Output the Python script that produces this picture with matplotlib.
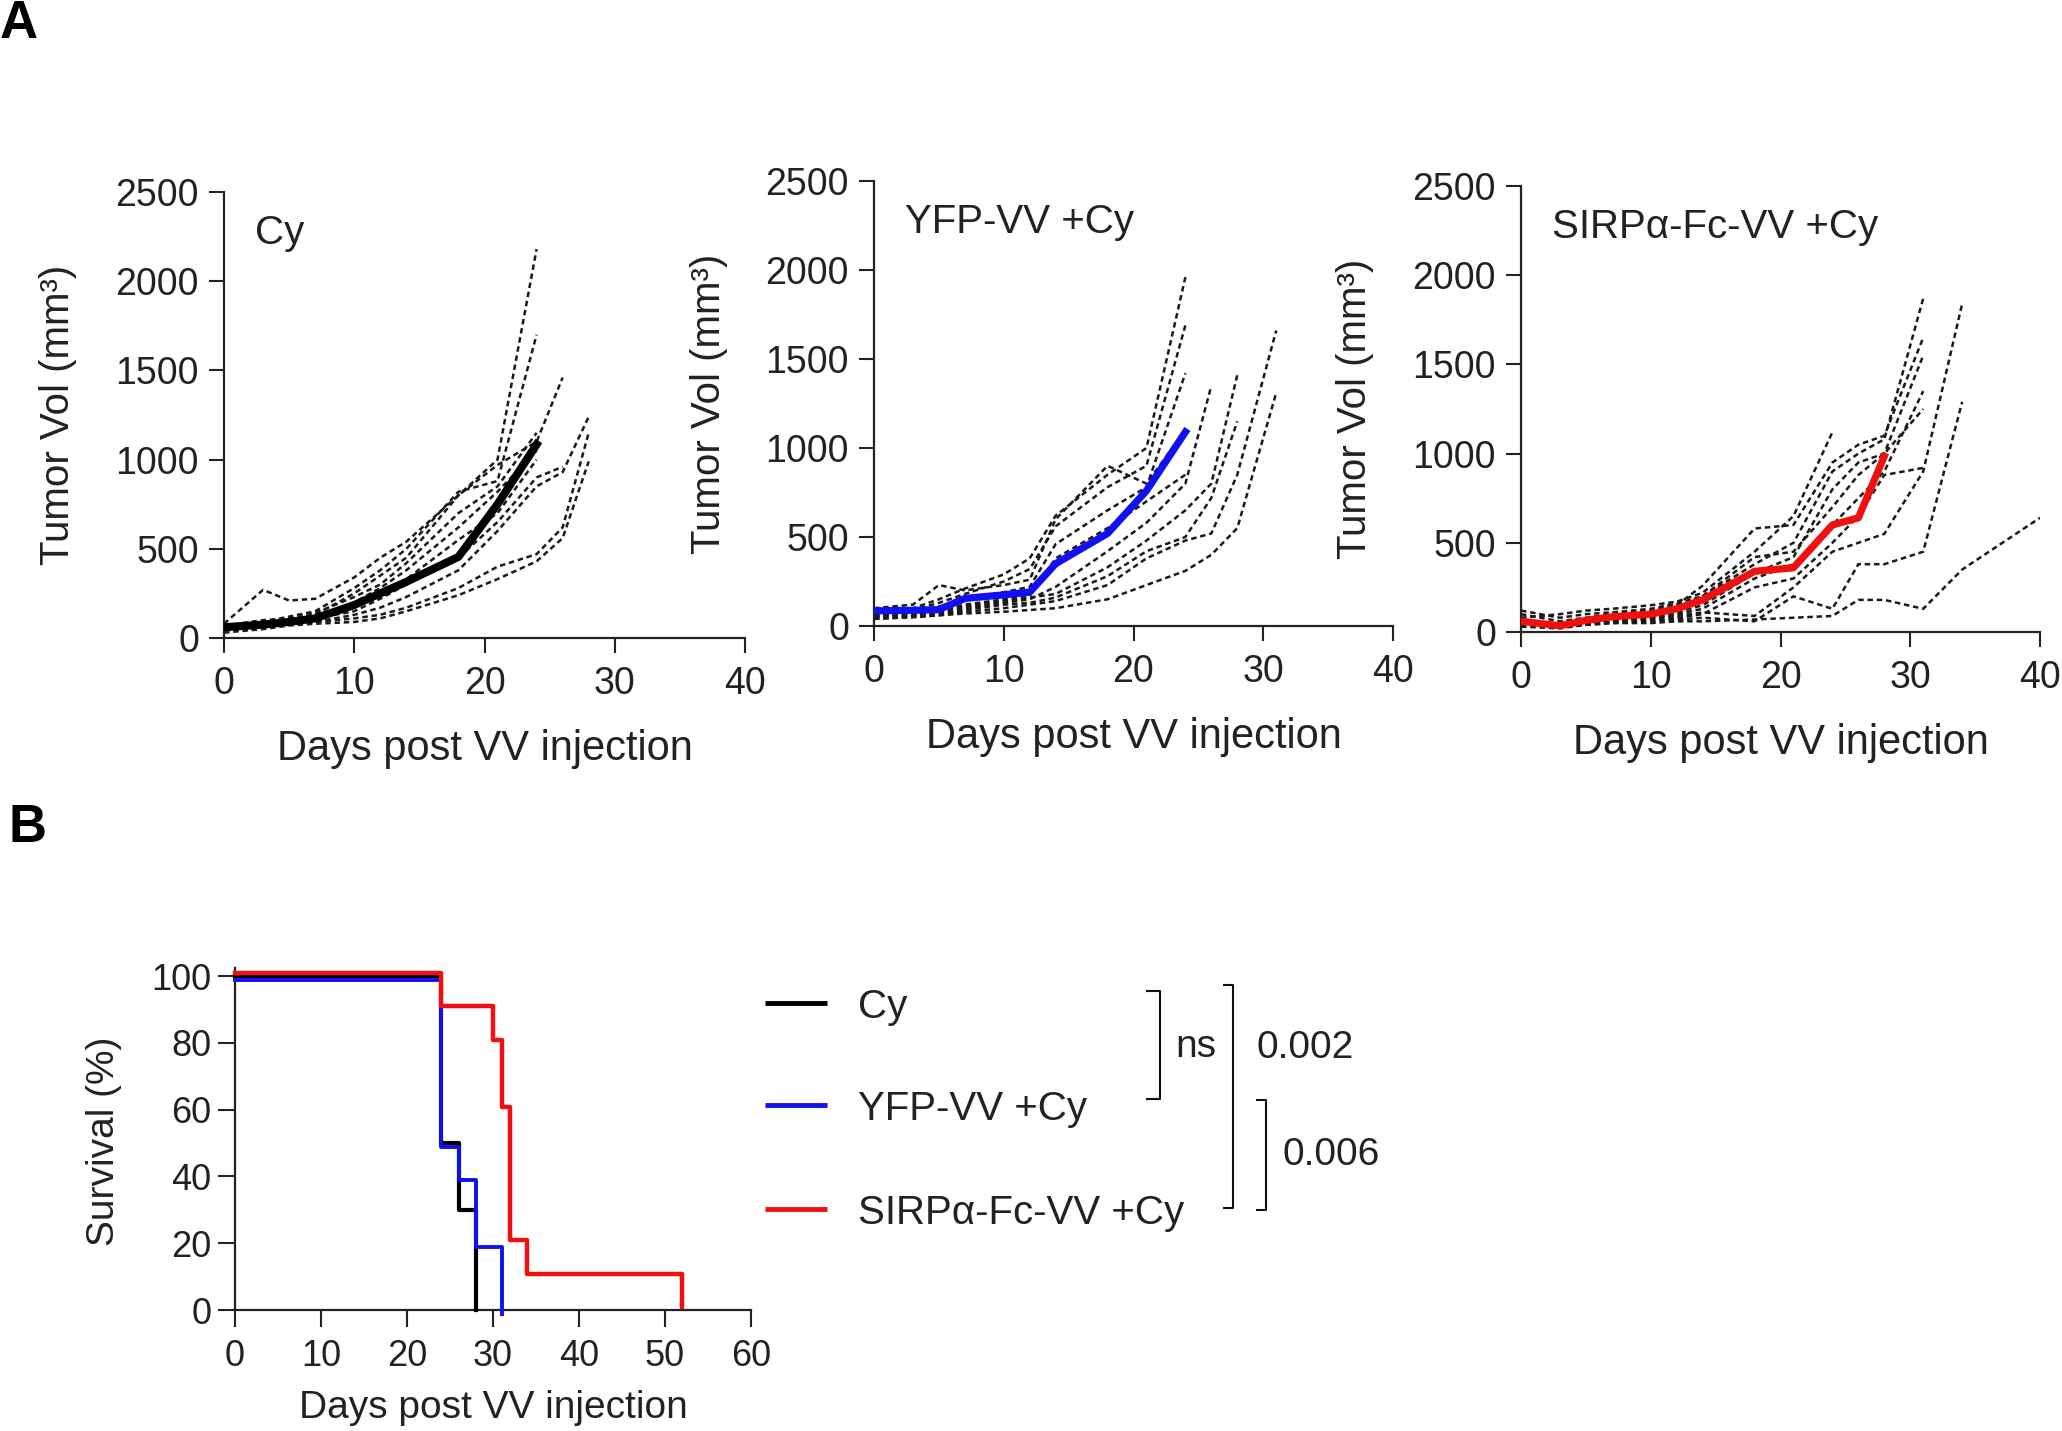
import matplotlib
matplotlib.use("Agg")
import matplotlib.pyplot as plt
from matplotlib.lines import Line2D
from matplotlib.transforms import offset_copy

plt.rcParams["font.family"] = ["Liberation Sans", "DejaVu Sans"]

W, H = 2062, 1431

# ---- A: tumour volume (mm3) per mouse, values up to the day each mouse died ----
cy_days = [0, 3, 5, 7, 10, 12, 14, 18, 21, 24, 26, 28]
cy_mean = [60, 75, 90, 110, 185, 250, 315, 455, 750, 1085]
cy_mice = [
    [50, 80, 100, 130, 250, 350, 450, 800, 1000, 2180],
    [60, 90, 120, 150, 280, 380, 500, 820, 880, 1700],
    [70, 100, 110, 140, 230, 300, 420, 700, 850, 1150],
    [40, 70, 90, 110, 200, 280, 380, 620, 820, 1050],
    [50, 60, 80, 100, 170, 250, 330, 550, 700, 1000],
    [80, 270, 210, 220, 340, 450, 540, 800, 970, 1100, 1460],
    [50, 70, 90, 110, 150, 220, 300, 450, 650, 900, 960],
    [40, 60, 80, 90, 130, 170, 230, 380, 600, 850, 930, 1240],
    [60, 70, 80, 90, 110, 130, 170, 280, 400, 470, 620, 1150],
    [30, 50, 70, 80, 90, 110, 150, 240, 330, 430, 560, 990],
]

yfp_days = [0, 3, 5, 7, 10, 12, 14, 18, 21, 24, 26, 28, 31]
yfp_mean = [85, 88, 92, 155, 175, 190, 350, 520, 760, 1090]
yfp_mice = [
    [90, 100, 150, 210, 290, 380, 620, 850, 1000, 1960],
    [80, 90, 130, 180, 250, 320, 560, 780, 900, 1690],
    [70, 80, 110, 150, 190, 220, 460, 650, 780, 1420],
    [100, 120, 230, 200, 230, 260, 600, 900, 800, 1100],
    [60, 70, 90, 120, 150, 170, 380, 550, 700, 850],
    [50, 60, 80, 100, 130, 150, 220, 420, 580, 800, 1350],
    [60, 70, 90, 110, 140, 160, 180, 330, 480, 650, 800, 1410],
    [50, 60, 70, 90, 120, 130, 160, 280, 420, 500, 720, 1150],
    [40, 50, 60, 80, 100, 120, 140, 230, 380, 480, 520, 850, 1660],
    [40, 50, 60, 70, 80, 90, 100, 150, 230, 310, 400, 550, 1310],
]

sirp_days = [0, 3, 5, 7, 10, 12, 14, 18, 21, 24, 26, 28, 31, 34, 40]
sirp_mean = [60, 35, 65, 85, 100, 130, 180, 340, 360, 600, 640, 985]
sirp_mice = [
    [80, 100, 120, 130, 150, 170, 220, 450, 650, 1120],
    [60, 40, 70, 90, 110, 140, 200, 380, 500, 900, 1000, 1080, 1870],
    [100, 60, 80, 100, 120, 150, 260, 580, 600, 950, 1050, 1100, 1650],
    [50, 30, 50, 70, 90, 110, 150, 330, 420, 800, 950, 1000, 1550],
    [120, 80, 100, 110, 130, 160, 200, 420, 450, 700, 880, 1000, 1250],
    [40, 30, 50, 60, 80, 100, 130, 300, 380, 600, 750, 900, 1350],
    [60, 30, 50, 60, 70, 80, 100, 250, 300, 500, 650, 880, 920],
    [70, 40, 60, 70, 80, 90, 110, 90, 250, 450, 500, 550, 900, 1840],
    [30, 20, 40, 50, 60, 70, 80, 60, 200, 130, 380, 380, 450, 1290],
    [50, 30, 40, 50, 50, 60, 60, 70, 80, 90, 180, 180, 130, 350, 640],
]

# ---- B: Kaplan-Meier survival (%) ----
cy_surv_t = [0, 24, 26, 28]
cy_surv = [100, 50, 30, 0]
yfp_surv_t = [0, 24, 26, 28, 31]
yfp_surv = [100, 50, 40, 20, 0]
sirp_surv_t = [0, 24, 30, 31, 32, 34, 52]
sirp_surv = [100, 90, 80, 60, 20, 10, 0]

groups = ["Cy", "YFP-VV +Cy", "SIRPα-Fc-VV +Cy"]
BLUE = "#1010f0"
RED = "#f01010"

fig = plt.figure(figsize=(W / 100, H / 100), dpi=100, facecolor="white")


def box(left, top, right, bottom):
    return [left / W, 1 - bottom / H, (right - left) / W, (bottom - top) / H]


def ftext(x, y, s, **kw):
    fig.text(x / W, 1 - y / H, s, **kw)


def fline(xs, ys, lw=1.5, color="#111111"):
    fig.add_artist(Line2D([x / W for x in xs], [1 - y / H for y in ys],
                          transform=fig.transFigure, color=color, lw=lw,
                          solid_capstyle="butt"))


def style_axes(ax, lsize, tlen, xpad, ypad):
    for s in ("top", "right"):
        ax.spines[s].set_visible(False)
    for s in ("left", "bottom"):
        ax.spines[s].set_linewidth(1.6)
        ax.spines[s].set_color("#222222")
    ax.tick_params(direction="out", length=tlen, width=1.5, color="#222222",
                   labelsize=lsize, labelcolor="#222222")
    ax.tick_params(axis="x", pad=xpad)
    ax.tick_params(axis="y", pad=ypad)


def growth_panel(rect, days, mice, mean, color, title, mean_lw):
    ax = fig.add_axes(box(*rect))
    for m in mice:
        ax.plot(days[:len(m)], m, color="#1a1a1a", lw=1.8,
                ls=(0, (2.2, 1.5)), zorder=2)
    ax.plot(days[:len(mean)], mean, color=color, lw=mean_lw, zorder=3)
    ax.set_xlim(0, 40)
    ax.set_ylim(0, 2500)
    ax.set_xticks(range(0, 41, 10))
    ax.set_yticks(range(0, 2501, 500))
    style_axes(ax, 27, 11, 9, 7)
    ax.text(0.06, 0.883, title, transform=ax.transAxes, fontsize=29,
            va="baseline", ha="left", color="#222222")
    return ax


panels = [
    ((224, 192, 745, 638), cy_days, cy_mice, cy_mean, "black", groups[0], 5.8, 58, 760),
    ((874, 181, 1393, 626), yfp_days, yfp_mice, yfp_mean, BLUE, groups[1], 5.2, 709, 748),
    ((1521, 186, 2040, 632), sirp_days, sirp_mice, sirp_mean, RED, groups[2], 5.2, 1355, 754),
]
for rect, days, mice, mean, color, title, mlw, ylx, xly in panels:
    growth_panel(rect, days, mice, mean, color, title, mlw)
    l, t, r, b = rect
    ftext(ylx, (t + b) / 2, "Tumor Vol (mm³)", rotation=90, ha="center",
          va="center", fontsize=29, color="#222222")
    ftext((l + r) / 2, xly, "Days post VV injection", ha="center",
          va="baseline", fontsize=30, color="#222222")

# ---- panel B ----
axs = fig.add_axes(box(235, 968, 751, 1310))
curves = [
    (cy_surv_t, cy_surv, "black", 0, 3.0),
    (yfp_surv_t, yfp_surv, BLUE, -3.5, 2.8),
    (sirp_surv_t, sirp_surv, RED, 3, 3.2),
]
for t, s, color, dy, lw in curves:
    tr = offset_copy(axs.transData, fig=fig, y=dy, units="dots")
    axs.step(t, s, where="post", color=color, lw=lw, transform=tr,
             clip_on=False, zorder=3)
axs.set_xlim(0, 60)
axs.set_ylim(0, 102.4)
axs.set_xticks(range(0, 61, 10))
axs.set_yticks(range(0, 101, 20))
style_axes(axs, 26, 12, 9, 5)
ftext(104, 1141, "Survival (%)", rotation=90, ha="center", va="center",
      fontsize=28, color="#222222")
ftext(493, 1418, "Days post VV injection", ha="center", va="baseline",
      fontsize=28, color="#222222")

# legend
leg_y = [1003, 1105, 1209]
leg_col = ["black", BLUE, RED]
for name, y, c in zip(groups, leg_y, leg_col):
    fline([765, 827], [y, y], lw=3.5, color=c)
    ftext(858, y + 15, name, ha="left", va="baseline", fontsize=29,
          color="#222222")

# significance brackets
fline([1146, 1160, 1160, 1146], [991, 991, 1099, 1099])
ftext(1175, 1057, "ns", ha="left", va="baseline", fontsize=28, color="#222222")
fline([1223, 1233, 1233, 1223], [985, 985, 1208, 1208])
ftext(1256, 1058, "0.002", ha="left", va="baseline", fontsize=28, color="#222222")
fline([1256, 1266, 1266, 1256], [1100, 1100, 1210, 1210])
ftext(1282, 1165, "0.006", ha="left", va="baseline", fontsize=28, color="#222222")

# panel letters
ftext(0, 38, "A", ha="left", va="baseline", fontsize=38, fontweight="bold")
ftext(8, 842, "B", ha="left", va="baseline", fontsize=38, fontweight="bold")

fig.savefig("out.png", dpi=100, facecolor="white")
